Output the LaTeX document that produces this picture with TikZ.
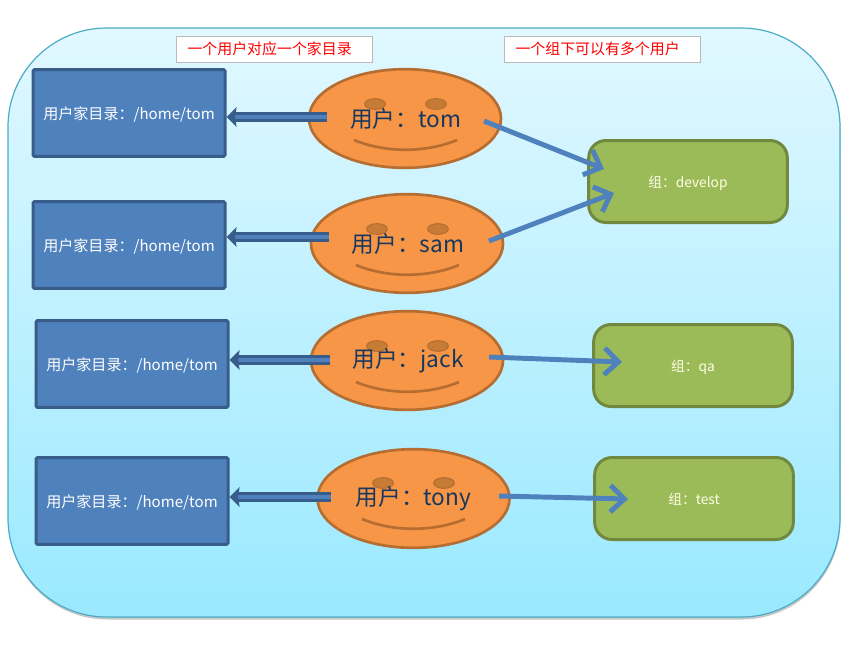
\documentclass[tikz,border=0pt]{standalone}
\usepackage{fontspec}
\setmainfont{Noto Sans CJK SC}
\usetikzlibrary{arrows.meta,shapes.geometric,calc,positioning}
\definecolor{homefill}{HTML}{4F81BD}
\definecolor{homeline}{HTML}{385D8A}
\definecolor{facefill}{HTML}{F79646}
\definecolor{faceline}{HTML}{B66D31}
\definecolor{eyefill}{HTML}{C77C36}
\definecolor{groupfill}{HTML}{9BBB59}
\definecolor{groupline}{HTML}{71893F}
\definecolor{panelline}{HTML}{4BACC6}
\definecolor{paneltop}{HTML}{E1F8FF}
\definecolor{panelbottom}{HTML}{9AE9FF}
\definecolor{facetext}{HTML}{17375E}
\tikzset{
homebox/.style = {draw=homeline, fill=homefill, line width=2.25pt, rounded corners=1pt, minimum width=144pt, minimum height=65pt, inner sep=0pt, text=white, text height=11.4pt, text depth=1.4pt, font=\fontsize{11.3}{14}\selectfont},
face/.style = {draw=faceline, fill=facefill, ellipse, line width=2pt, minimum width=144pt, minimum height=74pt, inner sep=0pt},
facelabel/.style = {inner sep=0pt, text=facetext, font=\fontsize{17}{20}\selectfont},
eye/.style = {draw=faceline, fill=eyefill, ellipse, line width=.8pt, minimum width=15.5pt, minimum height=8pt, inner sep=0pt},
mouth/.style = {draw=faceline, line width=2pt},
groupbox/.style = {draw=groupline, fill=groupfill, line width=2.25pt, rounded corners=13pt, minimum width=149pt, minimum height=61.5pt, inner sep=0pt, text=white!90!yellow, text height=10.3pt, text depth=1.3pt, font=\fontsize{10.3}{12}\selectfont},
note/.style = {draw=black!27, fill=white, line width=.75pt, minimum width=146.5pt, minimum height=19.5pt, text width=130.5pt, inner xsep=8pt, inner ysep=0pt, align=left, text=red, font=\fontsize{11.2}{14}\selectfont},
homearrow/.style = {draw=homeline, line width=2pt, double=homefill, double distance=3.5pt, -{Stealth[length=7.5pt,width=14.5pt,inset=1pt]}},
grouparrow/.style = {draw=homefill, line width=3.7pt, -{Straight Barb[length=10.5pt,width=20pt]}},
}
\begin{document}
\begin{tikzpicture}[x=.75pt,y=-.75pt]
\useasboundingbox (0,0) rectangle (855,647);
% background panel
\fill[black!22,rounded corners=74pt] (8.5,30) rectangle (840.5,619.5);
\draw[panelline,line width=.9pt,top color=paneltop,bottom color=panelbottom,rounded corners=74pt] (8,28) rectangle (840,617);
\node (onenote) at (274.5,49)[note] {一个用户对应一个家目录};
\node (twonote) at (602.5,49)[note] {一个组下可以有多个用户};
% home directories
\node (tomhome) at (129,113)[homebox] {用户家目录：/home/tom};
\node (samhome) at (129,245)[homebox] {用户家目录：/home/tom};
\node (jackhome) at (132,364)[homebox] {用户家目录：/home/tom};
\node (tonyhome) at (132,501)[homebox] {用户家目录：/home/tom};
% users
\node (tom) at (405,118.5)[face] {};
\node (sam) at (407,243.5)[face] {};
\node (jack) at (407,360.5)[face] {};
\node (tony) at (413.5,498.5)[face] {};
\node (tomeyel) at (375,104)[eye] {};
\node (tomeyer) at (436,104)[eye] {};
\node (sameyel) at (377,229)[eye] {};
\node (sameyer) at (438,229)[eye] {};
\node (jackeyel) at (377,346)[eye] {};
\node (jackeyer) at (438,346)[eye] {};
\node (tonyeyel) at (383,483)[eye] {};
\node (tonyeyer) at (444,483)[eye] {};
\draw[mouth] (354,140) .. controls (385,153) and (426,153) .. (457,140);
\draw[mouth] (356,265) .. controls (387,278) and (428,278) .. (459,265);
\draw[mouth] (356,382) .. controls (387,395) and (428,395) .. (459,382);
\draw[mouth] (362,519) .. controls (393,532) and (434,532) .. (465,519);
\node (tomlabel) at (405.5,119)[facelabel] {用户：tom};
\node (samlabel) at (408,244)[facelabel] {用户：sam};
\node (jacklabel) at (408,361)[facelabel] {用户：jack};
\node (tonylabel) at (413.5,499)[facelabel] {用户：tony};
% groups
\node (develop) at (688,181.5)[groupbox] {组：develop};
\node (qa) at (693,365.5)[groupbox] {组：qa};
\node (test) at (694,498.5)[groupbox] {组：test};
% arrow ends
\coordinate (tomleft) at (327,117);
\coordinate (samleft) at (329,237);
\coordinate (jackleft) at (330,360);
\coordinate (tonyleft) at (331,497);
\coordinate (tomright) at (484,121);
\coordinate (samright) at (489,241);
\coordinate (jackright) at (489,357);
\coordinate (tonyright) at (499,496);
\coordinate (developa) at (604,169);
\coordinate (developb) at (614,193);
\coordinate (qain) at (622,362);
\coordinate (testin) at (628,499);
\draw[homearrow] (tomleft) -- (tomleft-|tomhome.east);
\draw[homearrow] (samleft) -- (samleft-|samhome.east);
\draw[homearrow] (jackleft) -- (jackleft-|jackhome.east);
\draw[homearrow] (tonyleft) -- (tonyleft-|tonyhome.east);
\draw[grouparrow] (tomright) -- (developa);
\draw[grouparrow] (samright) -- (developb);
\draw[grouparrow] (jackright) -- (qain);
\draw[grouparrow] (tonyright) -- (testin);
\end{tikzpicture}
\end{document}
